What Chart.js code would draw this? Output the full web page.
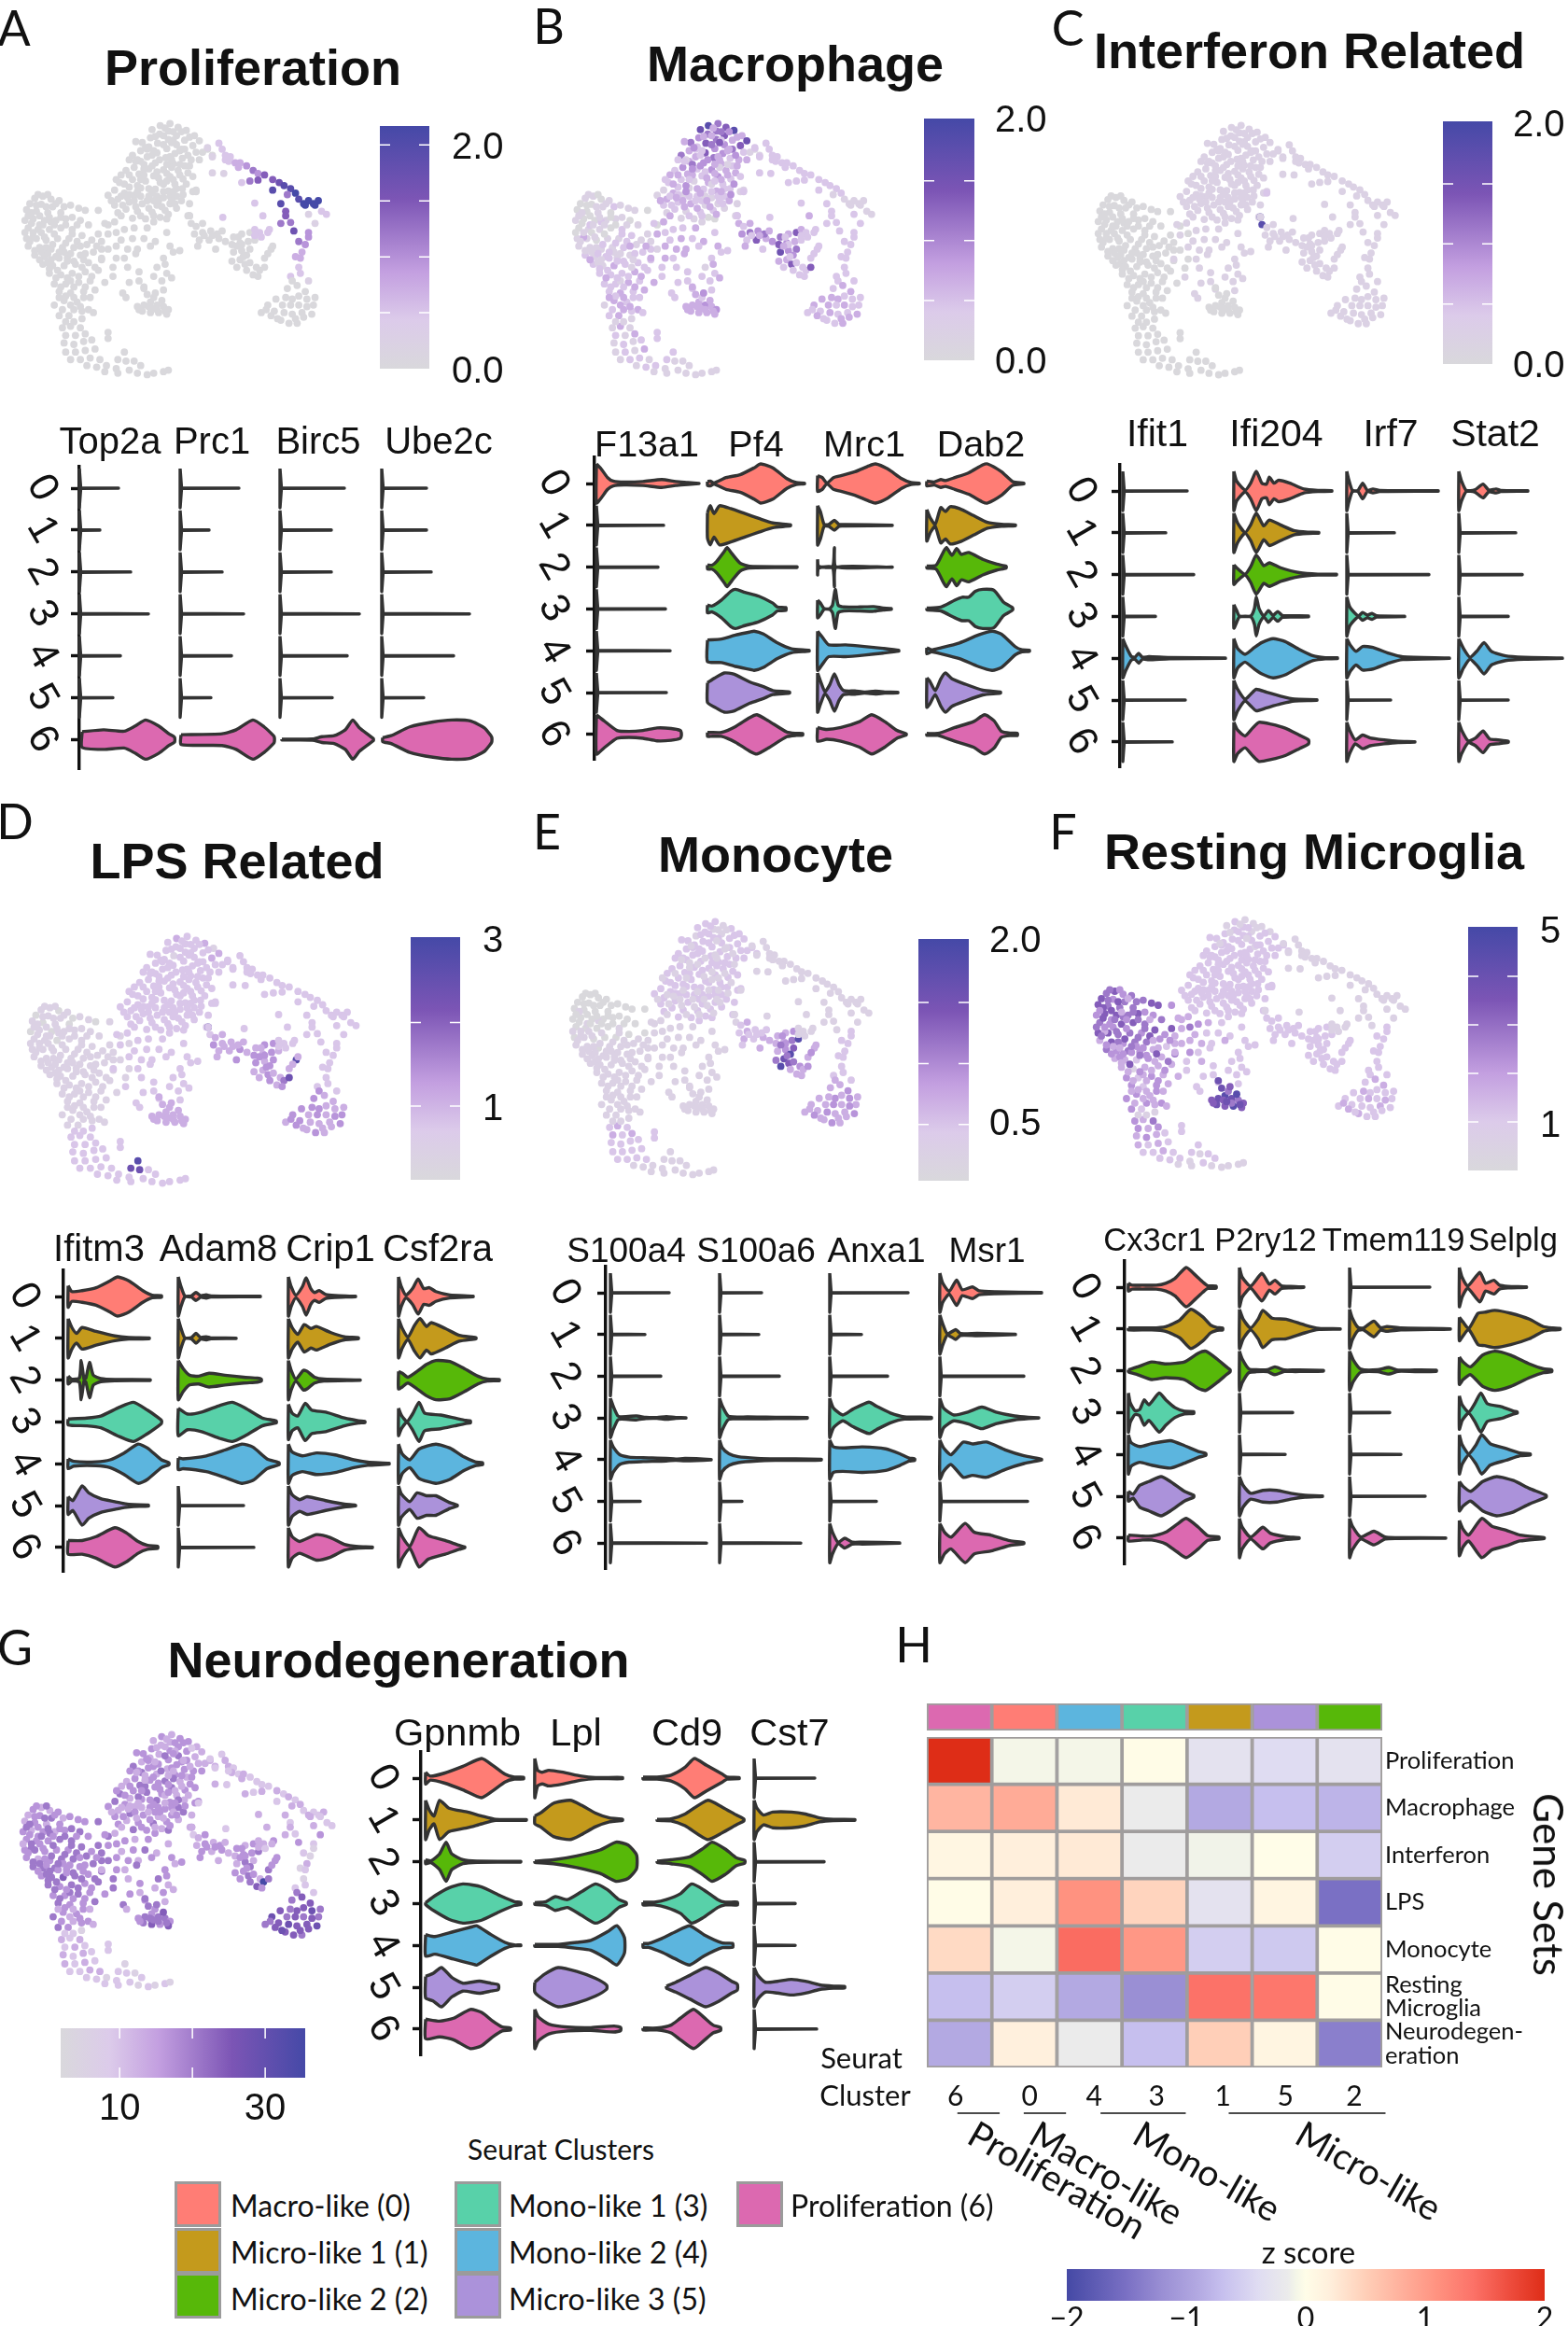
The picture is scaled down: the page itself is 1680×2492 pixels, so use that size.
<!DOCTYPE html>
<html>
<head>
<meta charset="utf-8">
<title>Gene set panels</title>
<script src="https://cdn.jsdelivr.net/npm/chart.js@4/dist/chart.umd.js"></script>
<style>
  body { margin: 0; background: #fff; }
  #page { position: relative; width: 1680px; height: 2492px; overflow: hidden; }
  canvas { position: absolute; }
  .txt { position: absolute; white-space: nowrap; color: #111; transform: translate(-50%, -50%); }
  .swatch { position: absolute; box-sizing: border-box; border: 3px solid #9b9b9b; }
</style>
</head>
<body>
<div id="page"></div>
<script>
// cluster ids and colours
const clusterColors = ['#ff7d75', '#c49a1c', '#57b809', '#58d1a9', '#5cb5de', '#ab92da', '#dc69b0'];
const clusterRows = ['0', '1', '2', '3', '4', '5', '6'];

// umap cell positions, grouped by region (x,y pairs)
const umapTop = [
  510,385,480,392,535,398,455,405,505,410,560,408,478,420,530,425,585,425,450,432,
  505,438,555,440,600,442,425,448,472,450,530,455,580,458,405,445,445,462,500,468,
  555,470,420,475,470,482,525,484,590,480,395,490,440,495,497,498,548,500,575,505,
  385,505,420,510,465,515,520,518,555,525,400,530,445,535,490,538,535,540,565,548,
  375,540,415,552,460,558,510,560,550,568,360,555,395,570,435,575,480,580,525,585,
  355,580,385,595,420,598,465,602,505,608,548,600,370,615,340,605,400,622,445,625,
  490,630,530,625,320,622,350,635,385,645,425,650,470,655,510,650,545,640,340,655,
  375,668,410,675,455,678,495,672,530,665,350,680,395,698,435,700,480,695,570,650,
  580,610,590,605,625,470,610,480,640,490,600,505,580,560,565,690,500,700,460,710,
  440,470,540,520,410,590,515,530,445,600,490,585,370,585,530,600,460,640,420,625,
  455,490,520,440,490,455,410,505,500,520,470,545,430,555,385,620,510,625,470,625];
const umapLeft = [
  120,625,95,632,145,635,170,640,80,650,115,652,150,660,185,660,205,655,70,670,
  100,675,135,680,175,680,230,665,250,672,290,672,65,705,90,700,125,705,160,705,
  190,700,235,705,75,730,105,735,140,735,175,730,210,735,260,720,70,765,100,765,
  130,770,165,765,200,765,240,755,290,750,320,720,75,790,110,795,145,800,180,795,
  215,795,255,785,300,775,345,745,95,820,125,825,160,825,195,828,235,820,275,810,
  320,800,120,850,150,855,185,855,220,850,260,845,300,835,345,830,140,880,175,885,
  210,880,250,875,290,870,335,860,155,915,190,915,230,910,265,905,310,910,170,940,
  205,945,245,940,280,935,185,970,225,975,155,985,260,1000,275,1010,170,1020,200,1020,
  65,745,85,680,110,720,155,750,190,780,225,775,115,745,145,710,205,815,240,860,
  135,845,170,830,205,905,90,760,130,795,165,870,270,770,210,750,250,815,280,860];
const umapMid = [
  310,715,340,710,370,735,400,730,440,730,320,750,360,770,395,765,430,765,465,775,
  380,800,410,800,450,790,345,790,370,830,405,815,380,860,415,875,300,830,335,890,
  500,745,510,790,520,810,540,805,490,830,470,860,460,890,495,850,500,880,485,905,
  515,895,385,910,415,905,365,945,375,960,430,930,490,935,570,690,575,715,590,610];
const umapLow = [
  180,1060,205,1055,235,1060,190,1085,220,1085,250,1080,185,1110,215,1115,245,1105,270,1100,
  190,1140,220,1140,250,1135,280,1130,205,1165,235,1165,265,1160,295,1165,320,1075,320,1095,
  255,1185,285,1190,315,1185,345,1195,370,1140,375,1170,350,1165,400,1170,420,1185,385,1200,
  410,1210,440,1215,460,1210,490,1205,505,1200,310,1205,350,1210,215,1040,240,1030,190,1040];
const umapBlob = [
  410,990,430,985,450,975,470,985,490,990,505,1000,425,1005,450,1010,475,1010,500,1015,
  440,950,460,960,430,925,470,1000,445,990,485,970,465,945,495,1005,415,1000,455,995];
const umapCol = [
  590,725,610,715,585,750,610,745,635,740,600,770,630,770,660,765,680,775,655,750,
  670,740,595,790,650,800,615,755,640,755,
  705,760,730,750,755,745,700,785,725,780,750,775,705,810,730,805,755,800,700,840,
  725,835,745,820,715,860,740,850,770,770,755,845,775,860,800,830,765,885,785,870,
  800,860,820,800,825,790,810,815,745,870,780,890,730,785,715,790,720,760,735,825];
const umapArc = [
  660,450,670,470,625,465,640,495,680,490,695,495,690,510,710,515,725,515,745,525,
  680,505,720,530,765,540,780,550,800,555,825,570,845,580,860,590,880,600,895,615,
  870,620,905,635,920,650,935,640,950,650,965,640,925,655,955,655,975,675,990,685,
  640,548,675,550,730,580,755,575,780,572,825,605,850,650,865,675,865,690,890,740,
  770,648,672,695,795,690,815,735,770,735,785,745,850,715,880,712,935,685,955,715,
  770,755,790,760,810,745,570,690];
const umapRight = [
  935,745,935,760,905,775,925,785,915,810,895,825,910,830,905,860,910,880,880,890,
  935,905,
  885,905,900,920,870,930,925,940,955,960,885,965,905,955,865,960,930,965,950,985,
  835,965,855,985,880,985,905,985,930,990,810,985,790,1010,830,1005,860,1010,885,1015,
  915,1010,945,1015,850,1035,875,1045,900,1045,820,1020,840,1030,920,1025,805,1000,895,1030];
const umapTopFill = [
  495,400,520,412,465,428,545,412,490,425,515,448,570,430,435,465,460,475,540,475,
  565,490,510,495,430,520,478,505,515,505,570,525,405,510,455,525,500,550,540,555,
  385,555,430,535,475,565,520,570,345,570,410,610,455,615,490,610,520,610,560,585,
  360,625,400,640,440,640,475,640,515,640,550,620,330,640,365,655,405,660,445,665,
  485,660,525,650,360,690,420,690,460,690,505,685,380,630,500,575,545,470,420,570];
const umapLeftFill = [
  105,620,135,620,160,650,130,660,100,655,75,690,110,690,140,695,175,695,210,695,
  85,715,120,720,155,720,190,720,225,720,90,745,125,760,150,785,185,810,115,810,
  80,775,95,805,135,815,170,810,215,840,245,835,145,835,195,840,160,895,195,895,
  230,890,270,890,175,925,215,925,250,925,140,865,110,835,300,800,285,790,235,790,
  190,955,215,960,245,960,170,960,180,1000,215,1000,240,1005,205,985,235,990,265,960];
const umapRegions = [umapTop, umapLeft, umapMid, umapLow, umapBlob, umapCol, umapArc, umapRight, umapTopFill, umapLeftFill];

// expression shade (0-9) per cell, one string per region, last digit carries on
const levelsProliferation = ['0', '0', '0', '0', '0', '0',
  '2211222334 2354667889 5899999922 1125688667 2222225511 2220', '4454333222 1 0', '0', '0'];
const levelsMacrophage = [
  '5867585634 5375646324 5364253523 2343242433 2324232132 2212323112 1213231132 2122111101 1111132101 2141313222 2251323221',
  '1101001210 0101101001 1001102111 0112101111 2112212112 1213222322 2322223232 3233213223 0120220211 1213121222',
  '2322332323 3323232232 2322212322 3222222232', '1312131212 1213122122 1221212111 1', '3334343333 3233334333',
  '2345426345 33223 5366437453 3426222222 6222222322', '2222222222 2222222222 1111111111 2222222222 2232322222 2222',
  '2222222222 2 2323232322 3323232232 2322332323',
  '3534363423 4354332433 3433243234 2323243233 3232233232',
  '1011010101 0110111211 1122211232 2322323233 2323232332'];
const levelsInterferon = ['1', '0', '1111111111 1111111111 1111111111 1111111882', '0', '0', '1', '1', '1', '1', '0'];
const levelsLps = ['2322232212 2232123222 2', '1101011011 0101010101 1111011111 1',
  '2222222222 2222222222 2222222222 2222222822', '2222222222 2222222222 2222877222 2', '3',
  '3343333433 33433 3444344343 3434333335 7833444434', '2',
  '2222222222 2 4343343434 4343443433 3434343343', '2', '1'];
const levelsMonocyte = ['2212122121 2', '0000000000 0000000000 0000001001 0000011101 1', '1',
  '2323232222 2222222222 1', '1', '2323232332 22322 3343353465 7886854333 4334334545', '1',
  '2222222222 2 3334343343 3343433343 3434343333', '2121212121 1', '0000000000 0000011111 1'];
const levelsResting = ['1211212112 2',
  '6545645556 5556644665 6454665566 5546633645 5435545432 3332435431 3332424334 2434344342 5644564543 4433564535',
  '3343233222 3233223232 2', '4354343432 3232223222 2221212222 1', '6787567686 7575686767', '2', '1',
  '2222222222 2 2323222322 2232322222 3232232232', '1211212121 2',
  '5436546354 6545345643 5435464534 3433434343 3343343333'];
const levelsNeuro = [
  '3443343434 4434353434 4344354344 4534344534 3545434543 5345434534 4543543454 3454345433 4433344354 4455434543 4354345344',
  '3434345343 4344454343 4544455445 4445554345 5554555445 5456545454 5455445445 4454454354 3545554545 5455454545',
  '4343443453 4344353435 3434453434 3435343422', '3232323232 3232223322 2212122122 1212122212', '4545545646 5455565545',
  '3434343434 34344 4343443534 4545543569 5444544444', '2322323232 2322232323 3232233222 3232323234 3234333234 3233',
  '2121312122 2 5656566575 6565675676 6766567656',
  '3434342434 3435343443 4343434343 3434343434 3434343434',
  '4545454545 4545454545 4545545454 5454454544 4343434343'];

// violins: one entry per cluster. a number is the length of a bare line,
// a list is x,halfwidth pairs along the expression axis
const vTop2a = [42, 22, 55, 74, 44, 36, [3,.4,26,.5,48,.43,60,.7,71,1,85,.7,96,.3,102,.12]];
const vPrc1 = [63, 31, 45, 68, 55, 33, [1,.25,45,.3,60,.5,78,1,90,.65,100,.2,101,.1]];
const vBirc5 = [69, 55, 55, 85, 72, 56, [2,.02,35,.03,45,.15,58,.2,70,.5,78,1,85,.6,100,.05]];
const vUbe2c = [48, 48, 53, 94, 77, 45, [1,.1,10,.2,30,.65,55,.9,75,1,95,.95,110,.6,117,.2,118,.1]];

const vF13a1 = [[0,1,5,.75,12,.3,18,.12,30,.07,50,.1,70,.2,85,.1,98,.05,110,0], 72, 66, 74, 79, 75,
  [0,1,8,.7,22,.2,35,.15,50,.2,65,.33,80,.3,90,.2,91,.08]];
const vPf4 = [[0,.1,3,.12,7,.03,20,.3,35,.45,50,.8,57,1,70,.8,85,.25,95,.05,104,.02],
  [0,.65,3,1,7,.6,13,1,25,.85,40,.6,55,.35,70,.12,89,.03],
  [0,.1,5,.1,10,.3,18,.8,21,1,26,.7,35,.2,45,.04,96,.02],
  [0,.2,5,.15,15,.45,25,.9,30,1,40,.85,55,.65,70,.3,75,.1,84,.07],
  [0,.55,15,.6,30,.8,45,.95,50,1,60,.85,75,.4,90,.1,109,.02],
  [0,.5,8,.75,18,1,28,.95,45,.55,60,.3,70,.1,88,.03],
  [0,.1,3,.1,15,.1,30,.4,45,.85,53,1,65,.7,85,.12,95,.05,102,.04]];
const vMrc1 = [[0,.4,5,.3,10,.02,17,.3,25,.4,40,.6,55,.9,62,1,75,.75,90,.25,100,.05,109,.02],
  [0,1,3,.7,7,.05,12,.05,18,.25,23,.05,30,.04,80,.01],
  [0,.4,1,.05,16,.01,18,1,20,.01,80,.01],
  [0,.45,3,.3,7,.02,13,.02,16,.2,19,1,22,.2,28,.1,45,.1,60,.12,70,.05,79,.02],
  [0,1,5,.7,12,.3,30,.3,50,.22,70,.12,87,.02],
  [0,1,3,.6,8,.05,13,.4,18,.95,23,.4,28,.1,40,.08,50,.03,62,.07,72,.03,86,.02],
  [0,.35,10,.25,25,.35,45,.65,58,1,72,.65,85,.2,95,.03]];
const vDab2 = [[0,.12,8,.08,15,.2,20,.15,30,.3,45,.55,60,.95,65,1,80,.6,92,.1,104,.02],
  [0,.8,4,.35,9,.05,15,.9,20,.7,25,.95,35,.85,50,.5,65,.15,80,.05,95,.02],
  [0,.05,10,.1,18,.8,21,1,27,.6,32,.95,37,.65,45,.75,60,.4,75,.15,85,.05],
  [0,.04,15,.1,30,.45,38,.6,45,.6,52,.9,60,1,72,.95,82,.35,90,.12,92,.05],
  [0,.15,5,.05,15,.15,35,.4,55,.8,70,1,80,.85,95,.2,102,.05,110,.03],
  [0,.75,3,.6,9,.1,15,.7,20,1,27,.7,40,.45,60,.12,79,.03],
  [0,.05,12,.05,30,.35,50,.65,62,1,72,.7,80,.15,90,.06,97,.06]];

const vIfit1 = [69, 46, 76, 35, [0,1,3,.65,9,.1,13,.05,17,.25,21,.05,28,.08,50,.03,110,.01], 67, 53];
const vIfi204 = [[0,1,3,.5,12,.05,18,.4,24,1,30,.4,35,.35,38,.7,43,.4,48,.55,60,.4,75,.1,90,.03,105,.02],
  [0,1,4,.5,12,.02,18,.4,24,1,32,.35,38,.65,50,.4,65,.1,80,.03,91,.02],
  [0,.5,4,.3,12,.02,18,.4,24,1,32,.45,38,.6,50,.35,70,.1,90,.02,110,.02],
  [0,.6,3,.3,6,.02,18,.02,22,.4,24,1,27,.4,32,.02,37,.3,42,.05,47,.25,52,.05,65,.03,80,.02],
  [0,1,4,.5,12,.2,22,.55,30,.8,42,1,55,.85,70,.45,85,.12,98,.03,111,.02],
  [0,1,4,.55,12,.04,18,.3,24,.55,35,.4,50,.2,65,.05,89,.02],
  [0,1,4,.6,12,.3,20,.7,27,1,40,.9,55,.7,70,.35,80,.1]];
const vIrf7 = [[0,1,2,.6,6,.03,12,.03,17,.4,22,.03,28,.1,35,.03,98,.01], 51, 88,
  [0,1,3,.5,10,.1,13,.04,17,.2,22,.07,27,.15,32,.03,62,.01],
  [0,1,4,.65,10,.35,17,.6,28,.55,45,.25,60,.07,110,.01], 47,
  [0,1,3,.6,9,.1,17,.35,25,.2,40,.1,55,.03,73,.01]];
const vStat2 = [[0,1,3,.5,8,.03,17,.05,26,.35,32,.05,40,.1,45,.03,74,.01], 61, 68, 53,
  [0,1,5,.5,12,.05,20,.4,27,.8,35,.35,50,.12,70,.05,111,.01], 53,
  [0,1,3,.6,10,.05,18,.2,26,.55,33,.15,42,.1,53,.03]];

const vIfitm3 = [[0,.55,4,.25,15,.3,30,.45,45,.8,53,1,65,.8,80,.3,90,.07,100,.04],
  [0,1,4,.55,9,.25,15,.55,30,.35,50,.12,65,.04,87,.02],
  [0,.2,4,.05,12,.1,14,1,17,.05,19,.1,23,.9,27,.25,35,.08,50,.03,88,.02],
  [0,.15,20,.2,35,.3,55,.75,70,1,85,.6,97,.2,100,.08],
  [0,.25,6,.12,30,.1,45,.2,60,.55,75,1,85,.8,100,.2,108,.05],
  [0,.45,5,.25,15,1,22,.65,35,.35,50,.2,60,.1,70,.05,86,.03],
  [0,.35,15,.35,30,.55,50,1,62,.75,75,.3,85,.1,96,.05]];
const vAdam8 = [[0,1,3,.5,7,.03,14,.03,19,.2,24,.04,30,.08,35,.03,88,.01],
  [0,1,3,.5,7,.02,14,.03,19,.25,24,.04,30,.08,35,.02,62,.01],
  [0,1,5,.6,12,.25,22,.2,33,.35,50,.25,70,.15,85,.1,89,.05],
  [0,.7,10,.4,25,.5,45,.85,58,1,72,.7,90,.2,105,.05],
  [0,.3,5,.25,30,.4,50,.7,68,1,80,.85,95,.25,108,.05], 70, 81];
const vCrip1 = [[0,1,3,.5,8,.07,15,.5,19,.95,24,.4,28,.2,33,.3,40,.1,50,.05,72,.01],
  [0,1,4,.55,10,.2,17,.7,24,.5,30,.6,45,.3,60,.08,75,.03],
  [0,1,3,.5,8,.05,16,.5,20,.45,28,.15,38,.05,77,.01],
  [0,.9,4,.45,10,.3,18,.95,25,.6,40,.5,60,.2,75,.06,82,.03],
  [0,1,4,.6,15,.4,30,.55,50,.45,70,.2,85,.08,108,.02],
  [0,1,4,.55,12,.3,20,.45,40,.25,60,.07,72,.02],
  [0,1,4,.55,12,.3,30,.65,45,.5,60,.15,75,.04,90,.02]];
const vCsf2ra = [[0,1,3,.5,8,.07,15,.4,21,.9,27,.4,33,.45,40,.25,55,.08,80,.02],
  [0,1,4,.5,10,.05,17,.65,23,1,30,.6,35,.8,50,.5,65,.15,83,.03],
  [0,.45,4,.35,10,.15,20,.45,30,.8,40,1,55,.95,70,.6,85,.2,95,.05,108,.03],
  [0,.7,3,.35,9,.02,15,.4,22,1,28,.45,45,.35,60,.2,72,.08,77,.05],
  [0,1,4,.5,12,.2,22,.75,40,1,55,.8,70,.35,82,.1,90,.05],
  [0,1,3,.6,12,.2,20,.65,30,.5,40,.5,55,.15,63,.02],
  [0,1,4,.55,12,.05,22,1,32,.6,50,.35,65,.1,71,.02]];

const vS100a4 = [63, 37, 54, [0,1,3,.6,8,.1,12,.06,28,.1,38,.03,50,.02,60,.07,70,.02,81,.01],
  [0,1,3,.65,10,.25,20,.13,35,.1,60,.07,70,.03,80,.06,108,.01], 32, 103];
const vS100a6 = [45, 42, 64, [0,1,3,.6,9,.1,14,.05,30,.05,50,.04,70,.03,94,.02],
  [0,1,3,.6,10,.3,20,.15,40,.07,60,.04,80,.04,109,.02], 24, 87];
const vAnxa1 = [84, 34, 62, [0,1,4,.5,14,.15,25,.45,42,.8,50,.6,65,.25,80,.06,109,.03],
  [0,1,4,.65,14,.6,35,.65,60,.55,75,.3,85,.08,91,.04], 50,
  [0,1,3,.55,9,.03,16,.25,24,.05,35,.05,75,.01]];
const vMsr1 = [[0,1,3,.5,10,.07,18,.65,24,.15,35,.3,42,.1,60,.05,109,.01],
  [0,1,3,.55,8,.03,17,.25,22,.05,40,.06,81,.01], 90,
  [0,1,4,.5,15,.15,30,.3,45,.55,60,.3,80,.1,95,.03,106,.01],
  [0,1,4,.6,12,.25,25,.9,35,.8,50,.9,70,.5,90,.2,109,.02], 94,
  [0,1,5,.55,12,.3,27,1,37,.55,55,.4,75,.12,90,.03]];

const vCx3cr1 = [[0,.2,4,.1,15,.1,30,.1,40,.2,50,.45,62,1,72,.6,80,.25,85,.07,94,.05],
  [0,.05,25,.05,40,.12,55,.45,67,1,80,.6,88,.2,95,.07,101,.05],
  [0,.05,10,.2,25,.45,40,.35,60,.45,75,.9,83,1,95,.6,105,.2,109,.05],
  [0,1,2,.5,7,.1,12,.15,17,.65,22,.4,33,1,40,.65,50,.25,60,.07,70,.05],
  [0,1,3,.6,12,.4,25,.55,45,.7,60,.45,75,.15,83,.05],
  [0,.25,5,.1,12,.55,22,.75,35,1,45,.75,60,.25,70,.05],
  [0,.15,15,.1,25,.1,40,.3,52,.7,62,1,75,.55,85,.12,97,.05]];
const vP2ry12 = [[0,1,3,.5,12,.05,24,.7,32,.15,38,.35,45,.07,55,.04,69,.01],
  [0,1,4,.5,12,.05,20,.5,25,.95,35,.55,50,.5,70,.2,85,.03,108,.01],
  [0,1,3,.6,10,.1,18,.05,30,.05,38,.2,48,.04,60,.04,90,.02], 57, 49,
  [0,1,4,.55,12,.15,25,.3,40,.3,55,.15,70,.05,89,.01],
  [0,1,3,.55,12,.05,25,.55,33,.25,50,.07,64,.02]];
const vTmem119 = [86, [0,1,3,.55,9,.08,15,.05,26,.4,33,.07,40,.12,55,.05,108,.01],
  [0,1,4,.55,12,.08,30,.05,42,.17,52,.03,70,.04,93,.03], 43, 55, 81,
  [0,1,3,.6,12,.05,26,.35,38,.05,50,.02,103,.01]];
const vSelplg = [[0,1,3,.5,9,.05,22,.75,28,.2,37,.35,43,.1,52,.04,72,.01],
  [0,.6,4,.35,10,.02,20,.8,27,.85,38,.95,55,.8,75,.5,90,.12,100,.05,108,.03],
  [0,.7,4,.45,12,.2,25,.8,38,1,55,.8,75,.35,90,.1,99,.05],
  [0,.85,3,.4,10,.02,17,.5,23,1,30,.45,45,.3,58,.07,62,.03],
  [0,1,3,.5,10,.03,18,.5,24,1,33,.55,50,.3,65,.07,76,.03],
  [0,.75,4,.5,12,.25,25,.75,40,1,58,.8,75,.4,93,.05],
  [0,.9,4,.45,10,.15,24,1,35,.6,50,.4,65,.15,91,.02]];

const vGpnmb = [[0,.3,5,.1,20,.25,40,.6,60,1,72,.65,85,.2,95,.05,105,.04],
  [0,1,4,.5,9,.2,15,1,25,.6,45,.4,60,.2,75,.03,108,.02],
  [0,.1,6,.05,15,.4,22,1,28,.4,40,.1,55,.03,102,.02],
  [0,.05,10,.4,25,.8,40,1,60,.85,80,.4,95,.1,102,.05],
  [0,.55,10,.45,30,.7,50,.95,55,1,70,.55,85,.15,95,.02,102,.02],
  [0,.55,8,.7,17,1,28,.5,40,.2,55,.3,60,.3,70,.2,78,.12],
  [0,.5,15,.4,30,.55,48,1,60,.85,72,.4,82,.1,91,.05]];
const vLpl = [[0,1,3,.4,8,.3,15,.4,30,.3,50,.1,65,.03,94,.03],
  [0,.2,6,.35,20,.85,38,1,50,.75,65,.35,80,.1,94,.03],
  [0,.03,20,.1,45,.3,70,.6,87,1,100,.85,109,.35],
  [0,.05,12,.1,22,.35,35,.2,50,.6,65,1,78,.7,90,.2,98,.05],
  [0,.05,25,.05,45,.15,60,.25,78,.7,88,1,96,.4],
  [0,.25,10,.65,25,1,45,.8,65,.45,77,.1],
  [0,1,4,.6,15,.25,35,.1,60,.07,85,.15,92,.08]];
const vCd9 = [[0,.05,15,.05,30,.15,45,.55,55,1,68,.65,85,.2,90,.05,103,.03],
  [15,.03,30,.05,45,.3,69,1,85,.65,100,.25,108,.05],
  [15,.03,30,.1,50,.25,65,.7,74,1,88,.65,100,.2,109,.07],
  [0,.07,12,.07,25,.2,40,.5,52,1,65,.7,80,.2,88,.07,101,.07],
  [0,.1,6,.1,20,.35,35,.7,50,1,65,.55,85,.12,96,.1],
  [25,.05,35,.25,50,.6,67,1,80,.75,95,.3,101,.15],
  [0,.05,15,.05,30,.2,40,.55,54,1,65,.6,75,.2,83,.08]];
const vCst7 = [65, [0,1,3,.6,10,.25,20,.4,40,.4,55,.3,70,.1,85,.03,108,.02], 75, 44, 44,
  [0,1,4,.6,12,.25,25,.3,40,.4,55,.3,70,.12,85,.05,97,.04], 67];

// heatmap
const heatColumns = ['6', '0', '4', '3', '1', '5', '2'];
const heatColumnColors = [6, 0, 4, 3, 1, 5, 2].map(i => clusterColors[i]);
const heatRows = ['Proliferation', 'Macrophage', 'Interferon', 'LPS', 'Monocyte', ['Resting', 'Microglia'], ['Neurodegen-', 'eration']];
const heatZ = [
  [2, -.08, -.08, .02, -.3, -.4, -.3],
  [.75, .85, .25, -.15, -.9, -.7, -.8],
  [.1, .2, .25, -.15, -.1, 0, -.55],
  [.02, .2, 1.1, .45, -.3, .12, -1.5],
  [.4, -.08, 1.45, 1.05, -.55, -.6, .02],
  [-.7, -.55, -.9, -1.2, 1.4, 1.35, .02],
  [-.9, .18, -.15, -.7, .5, .12, -1.35]];
const heatSpans = [[.47, 1.12], [1.49, 2.14], [2.67, 3.98], [4.64, 7.05]];
const heatTickAt = [.44, 1.58, 2.57, 3.53, 4.55, 5.51, 6.57];

// colour scales
const exprStops = [[0, '#d9d8dc'], [.2, '#dccbea'], [.4, '#c39fe0'], [.7, '#7c55b5'], [1, '#4549a7']];
const zStops = [[-2, '#4549a5'], [-1.5, '#7a70c4'], [-1.2, '#9a8fd4'], [-.9, '#b3a9e2'], [-.7, '#c6bfee'], [-.4, '#dfdcf2'],
  [-.15, '#ebebeb'], [-.08, '#f4f6e8'], [0, '#fffde8'], [.2, '#ffefdc'], [.5, '#ffcfb8'], [.8, '#ffb09c'],
  [1.1, '#ff9280'], [1.4, '#fc7268'], [1.7, '#ee4d3e'], [2, '#de2d17']];

const page = document.getElementById('page');
const SANS = '"Liberation Sans", Arial, sans-serif';
const MYRIAD = 'Lato, "Open Sans", sans-serif';

Chart.defaults.animation = false;
Chart.defaults.responsive = false;
Chart.defaults.maintainAspectRatio = false;
Chart.defaults.devicePixelRatio = 1;
Chart.defaults.plugins.legend.display = false;
Chart.defaults.plugins.tooltip.enabled = false;
Chart.defaults.color = '#111';

function newCanvas(left, top, width, height) {
  const c = document.createElement('canvas');
  c.width = width;
  c.height = height;
  c.style.left = left + 'px';
  c.style.top = top + 'px';
  page.appendChild(c);
  return c;
}

function addText(text, x, y, size, font, extra) {
  const d = document.createElement('div');
  d.className = 'txt';
  d.textContent = text;
  d.style.left = x + 'px';
  d.style.top = y + 'px';
  d.style.fontSize = size + 'px';
  d.style.fontFamily = font;
  if (extra) Object.assign(d.style, extra);
  page.appendChild(d);
  return d;
}

// keep axis boxes to the size we ask for, rotated labels would eat the plot otherwise
function fixWidth(scale, w) {
  scale.width = w;
  scale.paddingTop = 0;
  scale.paddingBottom = 0;
}
function fixHeight(scale, h) {
  scale.height = h;
  scale.paddingLeft = 0;
  scale.paddingRight = 0;
}

function hexToRgb(h) {
  return [parseInt(h.slice(1, 3), 16), parseInt(h.slice(3, 5), 16), parseInt(h.slice(5, 7), 16)];
}

function rampColor(stops, v) {
  if (v <= stops[0][0]) return stops[0][1];
  for (let i = 1; i < stops.length; i++) {
    if (v <= stops[i][0]) {
      const t = (v - stops[i - 1][0]) / (stops[i][0] - stops[i - 1][0]);
      const a = hexToRgb(stops[i - 1][1]), b = hexToRgb(stops[i][1]);
      return 'rgb(' + a.map((c, k) => Math.round(c + (b[k] - c) * t)).join(',') + ')';
    }
  }
  return stops[stops.length - 1][1];
}

// umap scatter, box = where the cell cloud lands on the page
function drawUmap(box, levels) {
  const [x0, y0, x1, y1] = box;
  const pad = 12;
  const kx = (x1 - x0) / 935, ky = (y1 - y0) / 850;
  const pts = [], colors = [];
  umapRegions.forEach((region, r) => {
    const digits = levels[r].replace(/ /g, '');
    for (let i = 0; i < region.length / 2; i++) {
      pts.push({ x: region[i * 2], y: region[i * 2 + 1] });
      const d = digits[i] !== undefined ? digits[i] : digits[digits.length - 1];
      colors.push(rampColor(exprStops, Number(d) / 9));
    }
  });
  new Chart(newCanvas(x0 - pad, y0 - pad, x1 - x0 + pad * 2, y1 - y0 + pad * 2), {
    type: 'scatter',
    data: { datasets: [{ data: pts, backgroundColor: colors, borderWidth: 0, pointRadius: 3.9 }] },
    options: {
      scales: {
        x: { display: false, min: 65 - pad / kx, max: 1000 + pad / kx },
        y: { display: false, reverse: true, min: 380 - pad / ky, max: 1230 + pad / ky }
      }
    }
  });
}

// gradient bar with a value axis
function drawColorBar(cfg) {
  const [l, t, r, b] = cfg.bar;
  const horizontal = cfg.horizontal;
  const pad = 40;
  const canvas = horizontal
    ? newCanvas(l - pad, t, r - l + pad * 2, b - t + 70)
    : newCanvas(l, t - pad, r - l + 110, b - t + pad * 2);
  const axisOpts = {
    min: cfg.min, max: cfg.max,
    border: { display: false }, grid: { display: false, drawTicks: false },
    afterBuildTicks: s => { s.ticks = cfg.labelAt.map(v => ({ value: v })); },
    ticks: {
      autoSkip: false, maxRotation: 0, padding: cfg.pad,
      font: { family: cfg.font || SANS, size: cfg.size },
      callback: (v, i) => cfg.labels[i]
    }
  };
  const stops = cfg.stops || exprStops;
  const lo = stops[0][0], hi = stops[stops.length - 1][0];
  const fillBar = ctx => {
    const a = ctx.chart.chartArea;
    if (!a) return stops[0][1];
    const g = horizontal
      ? ctx.chart.ctx.createLinearGradient(a.left, 0, a.right, 0)
      : ctx.chart.ctx.createLinearGradient(0, a.bottom, 0, a.top);
    stops.forEach(s => g.addColorStop((s[0] - lo) / (hi - lo), s[1]));
    return g;
  };
  const marks = {
    id: 'whiteMarks',
    afterDatasetsDraw(chart) {
      const a = chart.chartArea, c = chart.ctx;
      c.save();
      c.strokeStyle = '#fff';
      c.lineWidth = 1.5;
      c.beginPath();
      (cfg.marks || []).forEach(v => {
        if (horizontal) {
          const x = chart.scales.x.getPixelForValue(v);
          c.moveTo(x, a.top); c.lineTo(x, a.top + 11);
          c.moveTo(x, a.bottom - 11); c.lineTo(x, a.bottom);
        } else {
          const y = chart.scales.y.getPixelForValue(v);
          c.moveTo(a.left, y); c.lineTo(a.left + 11, y);
          c.moveTo(a.right - 11, y); c.lineTo(a.right, y);
        }
      });
      c.stroke();
      c.restore();
    }
  };
  new Chart(canvas, {
    type: 'bar',
    plugins: [marks],
    data: { labels: [''], datasets: [{ data: [[cfg.min, cfg.max]], backgroundColor: fillBar, borderWidth: 0, barPercentage: 1, categoryPercentage: 1 }] },
    options: {
      indexAxis: horizontal ? 'y' : 'x',
      layout: { padding: horizontal ? { left: pad, right: pad } : { top: pad, bottom: pad } },
      scales: horizontal ? {
        x: { ...axisOpts, afterFit: s => fixHeight(s, 70) },
        y: { display: false }
      } : {
        y: { ...axisOpts, position: 'right', afterFit: s => fixWidth(s, 110) },
        x: { display: false }
      }
    }
  });
}

// outline of one violin around its row
function violinOutline(profile, row, base, halfRow) {
  const p = typeof profile === 'number' ? [0, 1, 1.5, .02, profile, .005] : profile;
  const upper = [], lower = [];
  for (let i = 0; i < p.length; i += 2) {
    upper.push({ x: base + p[i], y: row - p[i + 1] * halfRow });
    lower.unshift({ x: base + p[i], y: row + p[i + 1] * halfRow });
  }
  return upper.concat(lower, [upper[0]]);
}

function drawViolins(cfg) {
  const HEAD = 60, YW = 70;
  const width = cfg.right - cfg.axisX + YW;
  const canvas = newCanvas(cfg.axisX - YW, cfg.axisTop - HEAD, width, cfg.axisBottom - cfg.axisTop + HEAD);
  const halfRow = 21 / cfg.rowStep;
  const datasets = [];
  cfg.violins.forEach((gene, g) => {
    gene.forEach((profile, row) => {
      datasets.push({
        data: violinOutline(profile, row, cfg.base[g], halfRow),
        showLine: true, fill: 'shape', tension: typeof profile === 'number' ? 0 : .2,
        backgroundColor: clusterColors[row], borderColor: '#333', borderWidth: 3.4,
        borderJoinStyle: 'round', pointRadius: 0, clip: false
      });
    });
  });
  new Chart(canvas, {
    type: 'scatter',
    data: { datasets },
    options: {
      scales: {
        x: {
          position: 'top', min: 0, max: width - YW,
          border: { display: false }, grid: { display: false, drawTicks: false },
          afterBuildTicks: s => { s.ticks = cfg.labelX.map(v => ({ value: v })); },
          afterFit: s => fixHeight(s, HEAD),
          ticks: {
            autoSkip: false, maxRotation: 0, padding: cfg.labelPad,
            font: { family: SANS, size: cfg.size },
            callback: (v, i) => cfg.genes[i]
          }
        },
        y: {
          reverse: true,
          min: (cfg.axisTop - cfg.row0) / cfg.rowStep,
          max: (cfg.axisBottom - cfg.row0) / cfg.rowStep,
          border: { display: true, color: '#111', width: 3.4 },
          grid: { drawOnChartArea: false, drawTicks: true, tickLength: 9, tickWidth: 3.4, tickColor: '#111' },
          afterBuildTicks: s => { s.ticks = clusterRows.map((_, i) => ({ value: i })); },
          afterFit: s => fixWidth(s, YW),
          ticks: {
            autoSkip: false, minRotation: -60, maxRotation: -60, crossAlign: 'center', padding: cfg.tickPad,
            font: { family: SANS, size: 44 },
            callback: (v, i) => clusterRows[i]
          }
        }
      }
    }
  });
}

function drawHeatmap() {
  const cellsW = 488, cellsH = 354, RW = 200, BH = 70;
  const spans = {
    id: 'groupLines',
    afterDraw(chart) {
      const c = chart.ctx, x = chart.scales.x;
      c.save();
      c.strokeStyle = '#111';
      c.lineWidth = 1.6;
      c.beginPath();
      heatSpans.forEach(s => {
        c.moveTo(x.getPixelForValue(s[0]), cellsH + 49);
        c.lineTo(x.getPixelForValue(s[1]), cellsH + 49);
      });
      c.stroke();
      c.restore();
    }
  };
  new Chart(newCanvas(993, 1861, cellsW + RW, cellsH + BH), {
    type: 'bar',
    plugins: [spans],
    data: {
      labels: heatRows,
      datasets: heatColumns.map((name, col) => ({
        label: name,
        data: heatZ.map(() => 1),
        backgroundColor: heatZ.map(row => rampColor(zStops, row[col])),
        borderColor: '#a09d9d', borderWidth: 2.2, borderSkipped: false,
        barPercentage: 1, categoryPercentage: 1
      }))
    },
    options: {
      indexAxis: 'y',
      scales: {
        x: {
          stacked: true, min: 0, max: 7,
          border: { display: false }, grid: { display: false, drawTicks: false },
          afterBuildTicks: s => { s.ticks = heatTickAt.map(v => ({ value: v })); },
          afterFit: s => fixHeight(s, BH),
          ticks: {
            autoSkip: false, maxRotation: 0, padding: 13,
            font: { family: MYRIAD, size: 30 },
            callback: (v, i) => heatColumns[i]
          }
        },
        y: {
          stacked: true, position: 'right',
          border: { display: false }, grid: { display: false, drawTicks: false },
          afterFit: s => fixWidth(s, RW),
          ticks: { autoSkip: false, padding: 3, font: { family: MYRIAD, size: 25.5, lineHeight: 1 } }
        }
      }
    }
  });
  new Chart(newCanvas(993, 1825, cellsW, 29), {
    type: 'bar',
    data: {
      labels: [''],
      datasets: heatColumns.map((name, col) => ({
        label: name, data: [1], backgroundColor: heatColumnColors[col],
        borderColor: '#a09d9d', borderWidth: 2.2, borderSkipped: false,
        barPercentage: 1, categoryPercentage: 1
      }))
    },
    options: {
      indexAxis: 'y',
      scales: { x: { stacked: true, display: false, min: 0, max: 7 }, y: { stacked: true, display: false } }
    }
  });
}

// umap panels
drawUmap([23, 127, 357, 410], levelsProliferation);
drawUmap([613, 127, 941, 410], levelsMacrophage);
drawUmap([1173, 129, 1502, 410], levelsInterferon);
drawUmap([29, 998, 389, 1276], levelsLps);
drawUmap([610, 982, 938, 1267], levelsMonocyte);
drawUmap([1171, 980, 1513, 1259], levelsResting);
drawUmap([21, 1853, 363, 2137], levelsNeuro);

// colour bars
drawColorBar({ bar: [407, 135, 460, 395], min: 0, max: 2.17, marks: [.5, 1, 1.5, 2], labelAt: [1.97, -.03], labels: ['2.0', '0.0'], size: 40, pad: 24 });
drawColorBar({ bar: [990, 127, 1044, 386], min: 0, max: 2.02, marks: [.5, 1, 1.5], labelAt: [2, -.02], labels: ['2.0', '0.0'], size: 40, pad: 22 });
drawColorBar({ bar: [1546, 130, 1599, 390], min: 0, max: 2.02, marks: [.5, 1, 1.5], labelAt: [1.98, -.02], labels: ['2.0', '0.0'], size: 40, pad: 22 });
drawColorBar({ bar: [440, 1004, 493, 1264], min: .12, max: 3.02, marks: [1, 2], labelAt: [2.96, .96], labels: ['3', '1'], size: 40, pad: 24 });
drawColorBar({ bar: [984, 1006, 1038, 1265], min: .04, max: 2.02, marks: [.5, 1, 1.5], labelAt: [2, .5], labels: ['2.0', '0.5'], size: 40, pad: 22 });
drawColorBar({ bar: [1573, 993, 1626, 1254], min: 0, max: 5.02, marks: [1, 2, 3, 4], labelAt: [4.9, .9], labels: ['5', '1'], size: 40, pad: 24 });
drawColorBar({ bar: [65, 2173, 327, 2226], horizontal: true, min: 1.9, max: 35.5, marks: [10, 20, 30], labelAt: [10, 30], labels: ['10', '30'], size: 40, pad: 10 });
drawColorBar({ bar: [1143, 2431, 1655, 2465], horizontal: true, stops: zStops, min: -2, max: 2, labelAt: [-2, -1, 0, 1, 2], labels: ['\u22122', '\u22121', '0', '1', '2'], size: 32, font: MYRIAD, pad: 0 });

// violin panels
drawViolins({ genes: ['Top2a', 'Prc1', 'Birc5', 'Ube2c'], violins: [vTop2a, vPrc1, vBirc5, vUbe2c], axisX: 85, axisTop: 500, axisBottom: 825, right: 545, row0: 523, rowStep: 44.9, base: [0, 108, 215, 324], labelX: [33, 142, 256, 385], size: 40, labelPad: 1, tickPad: 19 });
drawViolins({ genes: ['F13a1', 'Pf4', 'Mrc1', 'Dab2'], violins: [vF13a1, vPf4, vMrc1, vDab2], axisX: 637, axisTop: 490, axisBottom: 815, right: 1110, row0: 518, rowStep: 44.8, base: [2, 121, 239, 356], labelX: [56, 173, 289, 414], size: 39.5, labelPad: -12, tickPad: 23 });
drawViolins({ genes: ['Ifit1', 'Ifi204', 'Irf7', 'Stat2'], violins: [vIfit1, vIfi204, vIrf7, vStat2], axisX: 1200, axisTop: 498, axisBottom: 823, right: 1680, row0: 526, rowStep: 44.8, base: [3, 122, 243, 363], labelX: [40, 167.5, 290, 402], size: 41, labelPad: 7, tickPad: 21 });
drawViolins({ genes: ['Ifitm3', 'Adam8', 'Crip1', 'Csf2ra'], violins: [vIfitm3, vAdam8, vCrip1, vCsf2ra], axisX: 68, axisTop: 1361, axisBottom: 1685, right: 545, row0: 1389, rowStep: 44.8, base: [5, 123, 241, 359], labelX: [38, 166, 286, 401], size: 40, labelPad: -3, tickPad: 21 });
drawViolins({ genes: ['S100a4', 'S100a6', 'Anxa1', 'Msr1'], violins: [vS100a4, vS100a6, vAnxa1, vMsr1], axisX: 649, axisTop: 1357, axisBottom: 1682, right: 1120, row0: 1385, rowStep: 44.7, base: [5, 122, 240, 358], labelX: [22, 161, 290, 408.5], size: 37, labelPad: -7, tickPad: 23 });
drawViolins({ genes: ['Cx3cr1', 'P2ry12', 'Tmem119', 'Selplg'], violins: [vCx3cr1, vP2ry12, vTmem119, vSelplg], axisX: 1205, axisTop: 1351, axisBottom: 1677, right: 1680, row0: 1379, rowStep: 44.8, base: [4, 123, 241, 358.6], labelX: [32, 151, 288, 416], size: 34.5, labelPad: 0, tickPad: 22 });
drawViolins({ genes: ['Gpnmb', 'Lpl', 'Cd9', 'Cst7'], violins: [vGpnmb, vLpl, vCd9, vCst7], axisX: 451, axisTop: 1877, axisBottom: 2203, right: 935, row0: 1905, rowStep: 44.8, base: [5, 122, 238, 357], labelX: [39, 166, 285, 395], size: 41.5, labelPad: -6, tickPad: 20 });

drawHeatmap();

// titles and panel letters
const titles = [['Proliferation', 271, 72], ['Macrophage', 852, 68], ['Interferon Related', 1403, 54], ['LPS Related', 254, 922],
  ['Monocyte', 831, 915], ['Resting Microglia', 1408, 912], ['Neurodegeneration', 427, 1778]];
titles.forEach(t => addText(t[0], t[1], t[2], 54, SANS, { fontWeight: 'bold' }));
const panelLetters = [['A', 15, 29], ['B', 588, 27], ['C', 1144, 29], ['D', 16, 879], ['E', 586, 890], ['F', 1139, 890], ['G', 16, 1764], ['H', 979, 1761]];
panelLetters.forEach(t => addText(t[0], t[1], t[2], 52, MYRIAD));

// heatmap side texts
addText('Gene Sets', 1660, 2019, 44, MYRIAD, { transform: 'translate(-50%,-50%) rotate(90deg)' });
addText('Seurat', 923, 2204, 31, MYRIAD);
addText('Cluster', 927, 2244, 31, MYRIAD);
addText('z score', 1402, 2412, 33, MYRIAD);
const groupLabels = [['Proliferation', 1053, 2262], ['Macro-like', 1119, 2262], ['Mono-like', 1230, 2262], ['Micro-like', 1404, 2262]];
groupLabels.forEach(t => {
  addText(t[0], t[1], t[2], 39, MYRIAD, { transformOrigin: 'left top', transform: 'rotate(30deg)' });
});

// cluster legend
addText('Seurat Clusters', 601, 2302, 30, MYRIAD);
const legendItems = [
  ['Macro-like (0)', 0, 187, 2337, 247, 2362], ['Micro-like 1 (1)', 1, 187, 2387, 247, 2412], ['Micro-like 2 (2)', 2, 187, 2435, 247, 2462],
  ['Mono-like 1 (3)', 3, 487, 2337, 545, 2362], ['Mono-like 2 (4)', 4, 487, 2387, 545, 2412], ['Micro-like 3 (5)', 5, 487, 2435, 545, 2462],
  ['Proliferation (6)', 6, 789, 2337, 847, 2362]];
legendItems.forEach(it => {
  const s = document.createElement('div');
  s.className = 'swatch';
  s.style.cssText = 'left:' + it[2] + 'px;top:' + it[3] + 'px;width:50px;height:49px;background:' + clusterColors[it[1]];
  page.appendChild(s);
  addText(it[0], it[4], it[5], 32, MYRIAD, { transform: 'translate(0,-50%)' });
});
</script>
</body>
</html>
